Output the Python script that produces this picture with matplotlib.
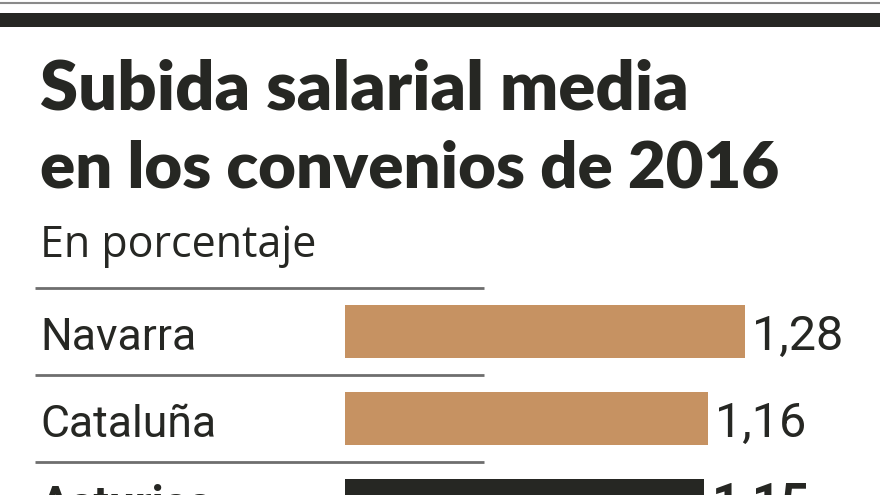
import matplotlib
matplotlib.use('Agg')
import matplotlib.pyplot as plt

regions = ['Navarra', 'Cataluña', 'Asturias']
values = [1.28, 1.16, 1.15]
value_labels = ['1,28', '1,16', '1,15']
bar_colors = ['#c69262', '#c69262', '#262723']
highlight = [False, False, True]

W, H = 880, 495
fig = plt.figure(figsize=(W / 100, H / 100), dpi=100)
fig.patch.set_facecolor('white')

# top rules
fig.add_artist(plt.Line2D([0, 1], [1 - 3 / H, 1 - 3 / H], color='#8a8a8a', lw=1.5))
fig.add_artist(plt.Rectangle((0, 1 - 27 / H), 1, 14 / H, color='#262723', lw=0))

title_font = ['Lato', 'DejaVu Sans']
fig.text(40 / W, 1 - 110 / H, 'Subida salarial media', fontsize=49.5, fontweight='heavy',
         family=title_font, color='#262723', va='baseline', ha='left')
fig.text(40 / W, 1 - 188 / H, 'en los convenios de 2016', fontsize=47, fontweight='heavy',
         family=title_font, color='#262723', va='baseline', ha='left')
fig.text(40 / W, 1 - 257 / H, 'En porcentaje', fontsize=31,
         family=['Open Sans', 'DejaVu Sans'], color='#262723', va='baseline', ha='left')

# axes spanning full width; x=0 at pixel 345, 312.5 px per unit
px_per_unit = 312.5
x0 = 345
ax_top = 288
ax = fig.add_axes([0, 0, 1, 1 - ax_top / H])
ax.set_xlim(-x0 / px_per_unit, (W - x0) / px_per_unit)
ax.set_ylim((H - ax_top) / 87 - 0.5, -0.5)
ax.axis('off')

ypos = list(range(len(regions)))
ax.barh(ypos, values, height=53 / 87, color=bar_colors, clip_on=False)

for y in ypos:
    ax.plot([(35 - x0) / px_per_unit, (484 - x0) / px_per_unit], [y - 0.5, y - 0.5],
            color='#6e6e6e', lw=2, clip_on=False, solid_capstyle='butt')

lab_font = ['Roboto', 'DejaVu Sans']
for y, name, v, lab, hi in zip(ypos, regions, values, value_labels, highlight):
    w = 'bold' if hi else 'normal'
    size = 33 if hi else 32
    base = y + (0.16 if hi else 0.21)
    ax.text((40 - x0) / px_per_unit, base, name, fontsize=size, family=lab_font,
            fontweight=w, color='#262723', va='baseline', ha='left')
    ax.text(v + 7 / px_per_unit, base, lab, fontsize=size + 3, family=lab_font,
            fontweight=w, color='#262723', va='baseline', ha='left')

fig.savefig('out.png', dpi=100)
